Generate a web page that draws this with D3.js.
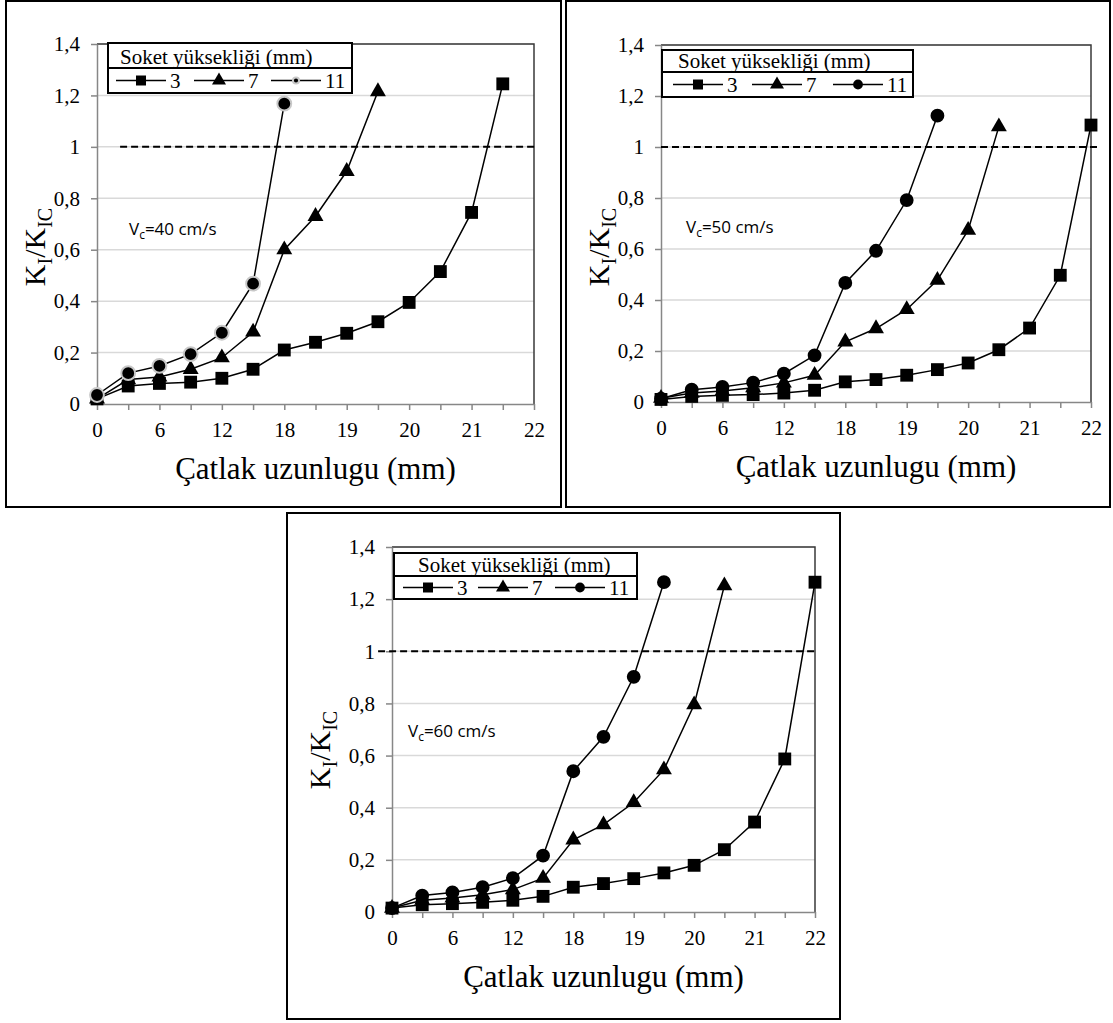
<!DOCTYPE html>
<html>
<head>
<meta charset="utf-8">
<script src="https://cdn.jsdelivr.net/npm/d3@7"></script>
<style>
body{margin:0;background:#fff;}
#chart text{font-family:"Liberation Serif","Times New Roman",serif;fill:#000;}
#chart text.note{font-family:"Open Sans","Liberation Sans",sans-serif;}
</style>
</head>
<body>
<svg id="chart" width="1113" height="1023"></svg>
<script>
// crack length categories (only every second one is labelled)
var crackLengths = [0,3,6,9,12,15,18,18.5,19,19.5,20,20.5,21,21.5,22];
var yTicks = [0,0.2,0.4,0.6,0.8,1,1.2,1.4];
var socketHeights = ["3","7","11"];
var speeds = ["40","50","60"];
var critical = 1;

// Vc = 40 cm/s
var v40_h3  = [0.02,0.07,0.08,0.085,0.10,0.135,0.21,0.24,0.275,0.32,0.395,0.515,0.745,1.245];
var v40_h7  = [0.02,0.095,0.105,0.135,0.18,0.28,0.60,0.73,0.905,1.215];
var v40_h11 = [0.035,0.12,0.148,0.194,0.277,0.468,1.168];
// Vc = 50 cm/s
var v50_h3  = [0.01,0.022,0.026,0.029,0.035,0.046,0.079,0.088,0.105,0.127,0.153,0.205,0.29,0.497,1.086];
var v50_h7  = [0.015,0.035,0.043,0.056,0.075,0.105,0.236,0.288,0.363,0.478,0.674,1.08];
var v50_h11 = [0.013,0.048,0.059,0.076,0.111,0.183,0.467,0.593,0.792,1.123];
// Vc = 60 cm/s
var v60_h3  = [0.015,0.028,0.032,0.037,0.045,0.06,0.095,0.109,0.128,0.15,0.179,0.239,0.345,0.587,1.265];
var v60_h7  = [0.015,0.045,0.054,0.066,0.086,0.13,0.277,0.335,0.42,0.546,0.795,1.252];
var v60_h11 = [0.015,0.063,0.075,0.095,0.13,0.216,0.54,0.672,0.902,1.265];

var panels = [
    {speed:speeds[0], series:[v40_h3,v40_h7,v40_h11], box:[6,1,561,507], plot:[97,44,534,404],
     legend:{x:108,y:43,w:244,h:50,div:25,tx:12,items:[8,86,163]}, dash:[0.74,14.05], note:[129,235], title:[45,247], halo:true},
    {speed:speeds[1], series:[v50_h3,v50_h7,v50_h11], box:[566,1,1110,507], plot:[661,45,1091,402],
     legend:{x:662,y:50,w:251,h:47,div:22,tx:16,items:[11,90,171]}, dash:[0,14.2], note:[686,233], title:[609,247], halo:false},
    {speed:speeds[2], series:[v60_h3,v60_h7,v60_h11], box:[287,513,840,1019], plot:[392,547,815,912],
     legend:{x:394,y:553,w:243,h:46,div:23,tx:24,items:[9,84,161]}, dash:[-0.46,14], note:[408,737], title:[330,750], halo:false}
];

var symbolTypes = [d3.symbolSquare, d3.symbolTriangle, d3.symbolCircle];
var symbolSizes = [165, 110, 150];
var legendSizes = [100, 85, 75];
var serif = "'Liberation Serif','Times New Roman',serif";

var fmt = function(d){ return String(d).replace(".", ","); };

var drawPanel = function(p){
    var svg = d3.select("#chart");
    var g = svg.append("g");

    g.append("rect")
        .attr("x", p.box[0]).attr("y", p.box[1])
        .attr("width", p.box[2]-p.box[0]).attr("height", p.box[3]-p.box[1])
        .attr("fill", "white").attr("stroke", "black").attr("stroke-width", 2);

    var x = d3.scaleLinear().domain([0, crackLengths.length-1]).range([p.plot[0], p.plot[2]]);
    var y = d3.scaleLinear().domain([0, 1.4]).range([p.plot[3], p.plot[1]]);

    // gridlines
    g.append("g").selectAll("line")
        .data(yTicks.slice(1))
        .enter().append("line")
        .attr("x1", x(0)).attr("x2", x(crackLengths.length-1))
        .attr("y1", function(d){ return y(d); })
        .attr("y2", function(d){ return y(d); })
        .attr("stroke", "#d9d9d9").attr("stroke-width", 1.5);

    // plot area border (top / right)
    g.append("path")
        .attr("d", "M" + x(0) + "," + y(1.4) + "H" + x(crackLengths.length-1) + "V" + y(0))
        .attr("fill", "none").attr("stroke", "#3a3a3a").attr("stroke-width", 1.5);

    var xAxis = d3.axisBottom(x)
        .tickValues(d3.range(crackLengths.length))
        .tickSize(6).tickSizeOuter(0).tickPadding(12)
        .tickFormat(function(i){ return i % 2 === 0 ? fmt(crackLengths[i]) : ""; });
    var yAxis = d3.axisLeft(y)
        .tickValues(yTicks)
        .tickSize(6).tickSizeOuter(0).tickPadding(11)
        .tickFormat(fmt);

    var ax = g.append("g").attr("transform", "translate(0," + y(0) + ")").call(xAxis);
    var ay = g.append("g").attr("transform", "translate(" + x(0) + ",0)").call(yAxis);
    [ax, ay].forEach(function(a){
        a.attr("font-family", serif).attr("font-size", 21);
        a.selectAll("path,line").attr("stroke", "#878787").attr("stroke-width", 1.5);
        a.selectAll("text").style("font-family", serif).style("font-size", "21px");
    });

    // critical line K_I/K_IC = 1
    g.append("line")
        .attr("x1", x(p.dash[0])).attr("x2", x(p.dash[1]))
        .attr("y1", y(critical)).attr("y2", y(critical))
        .attr("stroke", "black").attr("stroke-width", 2).attr("stroke-dasharray", "7,4");

    var line = d3.line()
        .x(function(d, i){ return x(i); })
        .y(function(d){ return y(d); });

    p.series.forEach(function(s, k){
        g.append("path").datum(s)
            .attr("d", line)
            .attr("fill", "none").attr("stroke", "black").attr("stroke-width", 1.5);
        g.append("g").selectAll("path")
            .data(s).enter().append("path")
            .attr("transform", function(d, i){ return "translate(" + x(i) + "," + y(d) + ")"; })
            .attr("d", d3.symbol().type(symbolTypes[k]).size(symbolSizes[k]))
            .attr("fill", "black")
            .attr("stroke", (p.halo && k === 2) ? "#c8c8c8" : "none")
            .attr("stroke-width", 2);
    });

    // legend
    var L = p.legend;
    var lg = g.append("g");
    lg.append("rect")
        .attr("x", L.x).attr("y", L.y).attr("width", L.w).attr("height", L.h)
        .attr("fill", "white").attr("stroke", "black").attr("stroke-width", 2);
    lg.append("line")
        .attr("x1", L.x).attr("x2", L.x + L.w)
        .attr("y1", L.y + L.div).attr("y2", L.y + L.div)
        .attr("stroke", "black").attr("stroke-width", 2);
    lg.append("text")
        .attr("x", L.x + L.tx).attr("y", L.y + L.div - 4)
        .style("font-size", "21px")
        .text("Soket yüksekliği (mm)");
    var rowY = L.y + L.div + (L.h - L.div) / 2;
    socketHeights.forEach(function(h, k){
        var sx = L.x + L.items[k];
        lg.append("line")
            .attr("x1", sx).attr("x2", sx + 50)
            .attr("y1", rowY).attr("y2", rowY)
            .attr("stroke", "black").attr("stroke-width", 1.5);
        lg.append("path")
            .attr("transform", "translate(" + (sx + 25) + "," + rowY + ")")
            .attr("d", d3.symbol().type(symbolTypes[k]).size((p.halo && k === 2) ? 30 : legendSizes[k]))
            .attr("fill", "black")
            .attr("stroke", (p.halo && k === 2) ? "#c8c8c8" : "none")
            .attr("stroke-width", 2);
        lg.append("text")
            .attr("x", sx + 54).attr("y", rowY + 7)
            .style("font-size", "21px")
            .text(h);
    });

    // speed note
    var note = g.append("text").attr("class", "note")
        .attr("x", p.note[0]).attr("y", p.note[1])
        .style("font-size", "17px");
    note.append("tspan").text("V");
    note.append("tspan").style("font-size", "12px").attr("dy", 4).text("c");
    note.append("tspan").attr("dy", -4).text("=" + p.speed + " cm/s");

    // axis titles
    var yt = g.append("text")
        .attr("transform", "translate(" + p.title[0] + "," + p.title[1] + ") rotate(-90)")
        .attr("text-anchor", "middle")
        .style("font-size", "30px");
    yt.append("tspan").text("K");
    yt.append("tspan").style("font-size", "20px").attr("dy", 7).text("I");
    yt.append("tspan").attr("dy", -7).text("/K");
    yt.append("tspan").style("font-size", "20px").attr("dy", 7).text("IC");

    g.append("text")
        .attr("x", (p.plot[0] + p.plot[2]) / 2)
        .attr("y", p.plot[3] + 75)
        .attr("text-anchor", "middle")
        .style("font-size", "31px")
        .text("Çatlak uzunlugu (mm)");
};

panels.forEach(drawPanel);
</script>
</body>
</html>
